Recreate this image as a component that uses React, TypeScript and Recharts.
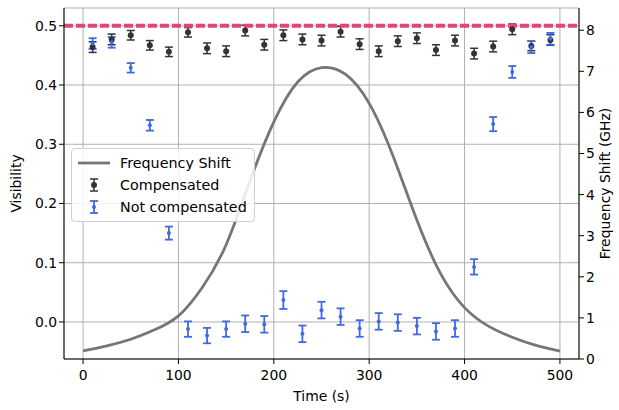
import { ComposedChart, Line, Scatter, ErrorBar, XAxis, YAxis, CartesianGrid, ReferenceLine, Legend } from "recharts";

const times = [10, 30, 50, 70, 90, 110, 130, 150, 170, 190, 210, 230, 250, 270, 290, 310, 330, 350, 370, 390, 410, 430, 450, 470, 490];
const compensated = [0.464, 0.477, 0.484, 0.467, 0.456, 0.489, 0.462, 0.457, 0.492, 0.468, 0.484, 0.477, 0.475, 0.490, 0.469, 0.457, 0.474, 0.479, 0.459, 0.475, 0.453, 0.465, 0.494, 0.466, 0.476];
const compensatedErr = [0.009, 0.009, 0.008, 0.008, 0.008, 0.008, 0.009, 0.009, 0.009, 0.009, 0.009, 0.009, 0.009, 0.009, 0.009, 0.009, 0.009, 0.009, 0.009, 0.009, 0.009, 0.009, 0.009, 0.008, 0.009];
const notCompensated = [0.470, 0.472, 0.429, 0.332, 0.150, -0.012, -0.023, -0.012, -0.003, -0.004, 0.037, -0.020, 0.020, 0.009, -0.011, 0.001, -0.001, -0.007, -0.016, -0.011, 0.093, 0.334, 0.422, 0.464, 0.478];
const notCompensatedErr = [0.009, 0.009, 0.008, 0.009, 0.011, 0.013, 0.013, 0.013, 0.014, 0.014, 0.015, 0.014, 0.014, 0.014, 0.014, 0.014, 0.014, 0.014, 0.014, 0.014, 0.013, 0.012, 0.010, 0.010, 0.010];

const curveTimes = [0, 25, 50, 75, 100, 125, 150, 175, 200, 225, 250, 275, 300, 325, 350, 375, 400, 425, 450, 475, 500];
const freqShift = [0.20, 0.32, 0.48, 0.71, 1.05, 1.74, 2.78, 4.33, 5.77, 6.74, 7.09, 6.93, 6.22, 4.94, 3.38, 2.07, 1.25, 0.80, 0.53, 0.33, 0.19];

const xTicks = [0, 100, 200, 300, 400, 500];
const visTicks = [0, 0.1, 0.2, 0.3, 0.4, 0.5];
const freqTicks = [0, 1, 2, 3, 4, 5, 6, 7, 8];

const compData = times.map((t, i) => ({ t, v: compensated[i], e: compensatedErr[i] }));
const notCompData = times.map((t, i) => ({ t, v: notCompensated[i], e: notCompensatedErr[i] }));
const curveData = curveTimes.map((t, i) => ({ t, f: freqShift[i] }));

const FONT = "'DejaVu Sans', sans-serif";
const tickStyle = { fontSize: 13.9, fill: "#000", fontFamily: FONT };

const LegendBox = () => (
  <div
    style={{
      border: "1px solid #d0d0d0",
      borderRadius: 4,
      background: "rgba(255,255,255,0.85)",
      padding: "3px 7px 3px 5px",
      fontFamily: FONT,
      fontSize: 14.3,
      lineHeight: "16px",
      color: "#000",
      whiteSpace: "nowrap",
    }}
  >
    <div style={{ display: "flex", alignItems: "center", height: 22 }}>
      <svg width={34} height={16} style={{ marginRight: 9 }}>
        <line x1={1} y1={8} x2={33} y2={8} stroke="#767676" strokeWidth={2.8} />
      </svg>
      <span>Frequency Shift</span>
    </div>
    <div style={{ display: "flex", alignItems: "center", height: 22 }}>
      <svg width={34} height={16} style={{ marginRight: 9 }}>
        <line x1={17} y1={2} x2={17} y2={14} stroke="#333" strokeWidth={1.5} />
        <line x1={13} y1={2} x2={21} y2={2} stroke="#333" strokeWidth={1.5} />
        <line x1={13} y1={14} x2={21} y2={14} stroke="#333" strokeWidth={1.5} />
        <circle cx={17} cy={8} r={3} fill="#333" />
      </svg>
      <span>Compensated</span>
    </div>
    <div style={{ display: "flex", alignItems: "center", height: 22 }}>
      <svg width={34} height={16} style={{ marginRight: 9 }}>
        <line x1={17} y1={2} x2={17} y2={14} stroke="#4169E1" strokeWidth={1.8} />
        <line x1={13} y1={2} x2={21} y2={2} stroke="#4169E1" strokeWidth={1.8} />
        <line x1={13} y1={14} x2={21} y2={14} stroke="#4169E1" strokeWidth={1.8} />
        <circle cx={17} cy={8} r={2} fill="#4169E1" />
      </svg>
      <span>Not compensated</span>
    </div>
  </div>
);

export default function App() {
  return (
    <div style={{ position: "absolute", left: 0, top: 0, width: 619, height: 410, background: "#fff" }}>
      <ComposedChart width={619} height={410} margin={{ top: 8, right: 0, bottom: 0, left: 0 }}>
        <CartesianGrid yAxisId="left" stroke="#b0b0b0" strokeWidth={1} />
        <XAxis
          dataKey="t"
          type="number"
          domain={[-20, 520]}
          ticks={xTicks}
          allowDataOverflow
          tick={{ ...tickStyle, dy: 4 }}
          tickSize={5}
          height={51}
          stroke="#000"
          label={{ value: "Time (s)", position: "insideBottom", offset: 9, style: { ...tickStyle, textAnchor: "middle" } }}
        />
        <XAxis xAxisId="top" orientation="top" dataKey="t" type="number" domain={[-20, 520]} tick={false} tickLine={false} height={0} stroke="#000" />
        <YAxis
          yAxisId="left"
          type="number"
          domain={[-0.0625, 0.53]}
          ticks={visTicks}
          allowDataOverflow
          tickFormatter={(v) => v.toFixed(1)}
          tick={tickStyle}
          tickSize={5}
          width={64}
          stroke="#000"
          label={{ value: "Visibility", angle: -90, position: "insideLeft", offset: 16, style: { ...tickStyle, textAnchor: "middle" } }}
        />
        <YAxis
          yAxisId="right"
          orientation="right"
          type="number"
          domain={[0, 8.54]}
          ticks={freqTicks}
          allowDataOverflow
          tick={tickStyle}
          tickSize={5}
          width={40}
          stroke="#000"
          label={{ value: "Frequency Shift (GHz)", angle: -90, position: "insideRight", offset: 14, style: { ...tickStyle, textAnchor: "middle" } }}
        />
        <Legend
          layout="vertical"
          align="center"
          verticalAlign="middle"
          wrapperStyle={{ left: 71, top: 148, width: "auto" }}
          content={() => <LegendBox />}
        />
        <Line
          data={curveData}
          yAxisId="right"
          dataKey="f"
          type="natural"
          stroke="#767676"
          strokeWidth={2.8}
          dot={false}
          isAnimationActive={false}
        />
        <Scatter
          data={compData}
          yAxisId="left"
          dataKey="v"
          fill="#333"
          isAnimationActive={false}
          shape={(p: any) => <circle cx={p.cx} cy={p.cy} r={3} fill="#333" />}
        >
          <ErrorBar dataKey="e" direction="y" width={4} stroke="#333" strokeWidth={1.5} />
        </Scatter>
        <Scatter
          data={notCompData}
          yAxisId="left"
          dataKey="v"
          fill="#4169E1"
          isAnimationActive={false}
          shape={(p: any) => <circle cx={p.cx} cy={p.cy} r={2} fill="#4169E1" />}
        >
          <ErrorBar dataKey="e" direction="y" width={4} stroke="#4169E1" strokeWidth={1.8} />
        </Scatter>
        <ReferenceLine yAxisId="left" y={0.5} stroke="#e0457b" strokeWidth={4} strokeDasharray="9 3" />
      </ComposedChart>
    </div>
  );
}
